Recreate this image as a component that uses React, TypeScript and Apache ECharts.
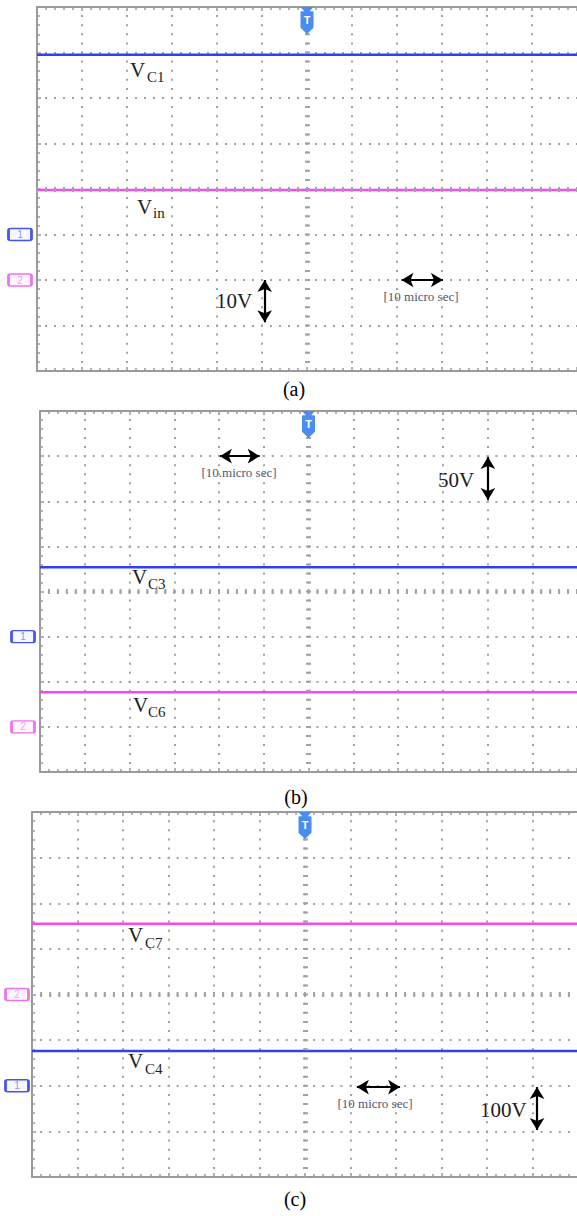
import React, { useEffect, useRef } from "react";
import * as echarts from "echarts";

const PAGE_W = 577;
const PAGE_H = 1216;

// Horizontal scale: 10 µs per division, 12 divisions on screen
const TIME_MIN = -60;
const TIME_MAX = 60;
const TIME_PER_DIV = 10;
// Vertical scale: screen divisions around the centre line
const DIV_MIN = -4;
const DIV_MAX = 4;

const panelLabels = ["(a)", "(b)", "(c)"];
const voltsPerDiv = [10, 50, 100];
// channel ground markers, in divisions
const ch1Ground = [-1, -1, -2];
const ch2Ground = [-2, -3, 0];

const sampleTimes = [-60, -50, -40, -30, -20, -10, 0, 10, 20, 30, 40, 50, 60];
// capacitor / input voltages (V)
const vC1 = [39.5, 39.5, 39.5, 39.5, 39.5, 39.5, 39.5, 39.5, 39.5, 39.5, 39.5, 39.5, 39.5];
const vIn = [19.8, 19.8, 19.8, 19.8, 19.8, 19.8, 19.8, 19.8, 19.8, 19.8, 19.8, 19.8, 19.8];
const vC3 = [77, 77, 77, 77, 77, 77, 77, 77, 77, 77, 77, 77, 77];
const vC6 = [38.5, 38.5, 38.5, 38.5, 38.5, 38.5, 38.5, 38.5, 38.5, 38.5, 38.5, 38.5, 38.5];
const vC4 = [76, 76, 76, 76, 76, 76, 76, 76, 76, 76, 76, 76, 76];
const vC7 = [155, 155, 155, 155, 155, 155, 155, 155, 155, 155, 155, 155, 155];

const ch1Values = [vC1, vC3, vC4];
const ch2Values = [vIn, vC6, vC7];
const ch1Names = [["V", "C1"], ["V", "C3"], ["V", "C4"]];
const ch2Names = [["V", "in"], ["V", "C6"], ["V", "C7"]];

// scale arrows in data units: [t1, div1, t2, div2]
const timeArrows = [
  [21, -2, 30.2, -2],
  [-19.8, 3, -10.9, 3],
  [11.4, -2.03, 20.9, -2.03],
];
const voltArrows = [
  [-9.4, -2, -9.4, -2.93],
  [40.1, 2.98, 40.1, 2.03],
  [51, -2.03, 51, -2.97],
];
const timeScaleText = ["[10 micro sec]", "[10.micro sec]", "[10 micro sec]"];
const voltScaleText = ["10V", "50V", "100V"];

// ---- layout ----
const GRID_RECTS = [
  { left: 37, top: 7, width: 540, height: 364 },
  { left: 40, top: 411, width: 537, height: 361 },
  { left: 32, top: 812, width: 546, height: 365 },
];
const CH1_LABEL_POS = [
  { x: 130, y: 70, sx: 147, sy: 77 },
  { x: 132, y: 577, sx: 148, sy: 584 },
  { x: 128, y: 1061, sx: 145, sy: 1069 },
];
const CH2_LABEL_POS = [
  { x: 137, y: 207, sx: 153, sy: 213 },
  { x: 133, y: 705, sx: 148, sy: 712 },
  { x: 128, y: 935, sx: 145, sy: 943 },
];
const TIME_TEXT_POS = [
  { x: 421, y: 296 },
  { x: 239, y: 472 },
  { x: 375, y: 1103 },
];
const VOLT_TEXT_POS = [
  { x: 216, y: 301 },
  { x: 438, y: 480 },
  { x: 480, y: 1110 },
];
const CAPTION_POS = [
  { x: 294, y: 389 },
  { x: 296, y: 797 },
  { x: 295, y: 1199 },
];
const MARKER_OFFSET = [-17, -17, -15];

const SERIF = "'Liberation Serif', 'DejaVu Serif', serif";
const FRAME = "#9a9a9a";
const DOT = "#a2a2a2";
const BLUE = "#3040f2";
const PINK = "#f04af0";
const TRIG = "#4a8cf0";
const TEXT = "#1c1c24";
const SCALE_TEXT = "#4e5670";

const TRIGGER_PATH =
  "path://M0,0 L12,0 L8.5,4 L11,4 Q12,4 12,5 L12,20 L6,26 L0,20 L0,5 Q0,4 1,4 L3.5,4 Z";
const MARKER_PATH =
  "path://M2,0 L21,0 Q23,0 23,2 L23,10 Q23,12 21,12 L2,12 Q0,12 0,10 L0,2 Q0,0 2,0 Z";

function buildOption() {
  const grid: any[] = [];
  const xAxis: any[] = [];
  const yAxis: any[] = [];
  const series: any[] = [];
  const graphic: any[] = [];

  const tick = {
    show: true,
    inside: true,
    length: 4,
    lineStyle: { color: FRAME, width: 1.5 },
  };
  const minorTick = {
    show: true,
    splitNumber: 5,
    length: 3,
    lineStyle: { color: FRAME, width: 1.5 },
  };
  const axisLine = { show: true, onZero: false, lineStyle: { color: FRAME, width: 2 } };

  GRID_RECTS.forEach((r, i) => {
    const stepV = r.height / ((DIV_MAX - DIV_MIN) * 5);
    const stepH = r.width / (((TIME_MAX - TIME_MIN) / TIME_PER_DIV) * 5);

    grid.push({ ...r, containLabel: false, outerBoundsMode: "none" });

    xAxis.push({
      gridIndex: i,
      type: "value",
      position: "bottom",
      min: TIME_MIN,
      max: TIME_MAX,
      interval: TIME_PER_DIV,
      axisLine,
      axisTick: tick,
      minorTick,
      axisLabel: { show: false },
      splitLine: {
        show: true,
        showMinLine: false,
        showMaxLine: false,
        lineStyle: { color: DOT, width: 2, type: [2, stepV - 2], dashOffset: 1 },
      },
    });
    xAxis.push({
      gridIndex: i,
      type: "value",
      position: "top",
      min: TIME_MIN,
      max: TIME_MAX,
      interval: TIME_PER_DIV,
      axisLine,
      axisTick: tick,
      minorTick,
      axisLabel: { show: false },
      splitLine: { show: false },
    });
    yAxis.push({
      gridIndex: i,
      type: "value",
      position: "left",
      min: DIV_MIN,
      max: DIV_MAX,
      interval: 1,
      axisLine,
      axisTick: tick,
      minorTick,
      axisLabel: { show: false },
      splitLine: {
        show: true,
        showMinLine: false,
        showMaxLine: false,
        lineStyle: { color: DOT, width: 2, type: [2, stepH - 2], dashOffset: 1 },
      },
    });

    // centre cross, trigger flag and channel ground markers
    series.push({
      type: "line",
      xAxisIndex: 2 * i,
      yAxisIndex: i,
      data: [],
      silent: true,
      z: 1,
      markLine: {
        silent: true,
        symbol: "none",
        label: { show: false },
        data: [
          {
            xAxis: 0,
            lineStyle: { color: DOT, width: 5, type: [2, stepV - 2], dashOffset: 1 },
          },
          {
            yAxis: 0,
            lineStyle: { color: DOT, width: 5, type: [2, stepH - 2], dashOffset: 1 },
          },
        ],
      },
      markPoint: {
        silent: true,
        data: [
          {
            coord: [0, DIV_MAX],
            symbol: TRIGGER_PATH,
            symbolSize: [13, 27],
            symbolOffset: [0, "50%"],
            itemStyle: { color: TRIG },
            label: {
              show: true,
              position: "inside",
              formatter: "T",
              color: "#ffffff",
              fontWeight: "bold",
              fontSize: 11,
              fontFamily: "Arial, sans-serif",
              offset: [0, -1],
            },
          },
          {
            coord: [TIME_MIN, ch1Ground[i]],
            symbol: MARKER_PATH,
            symbolSize: [23, 12],
            symbolOffset: [MARKER_OFFSET[i], 0],
            itemStyle: { color: "#f7f7ff", borderColor: "#4654f0", borderWidth: 2 },
            label: {
              show: true,
              position: "inside",
              formatter: "1",
              color: "#8a98f2",
              fontSize: 10,
              fontFamily: "Arial, sans-serif",
            },
          },
          {
            coord: [TIME_MIN, ch2Ground[i]],
            symbol: MARKER_PATH,
            symbolSize: [23, 12],
            symbolOffset: [MARKER_OFFSET[i], 0],
            itemStyle: { color: "#fff7ff", borderColor: "#f070f0", borderWidth: 2 },
            label: {
              show: true,
              position: "inside",
              formatter: "2",
              color: "#f5a0f5",
              fontSize: 10,
              fontFamily: "Arial, sans-serif",
            },
          },
        ],
      },
    });

    // channel traces
    series.push({
      name: ch1Names[i].join(""),
      type: "line",
      xAxisIndex: 2 * i,
      yAxisIndex: i,
      showSymbol: false,
      symbol: "none",
      silent: true,
      z: 3,
      lineStyle: { color: BLUE, width: 2.5 },
      data: sampleTimes.map((t, k) => [t, ch1Values[i][k] / voltsPerDiv[i] + ch1Ground[i]]),
    });
    series.push({
      name: ch2Names[i].join(""),
      type: "line",
      xAxisIndex: 2 * i,
      yAxisIndex: i,
      showSymbol: false,
      symbol: "none",
      silent: true,
      z: 3,
      lineStyle: { color: PINK, width: 2.5 },
      data: sampleTimes.map((t, k) => [t, ch2Values[i][k] / voltsPerDiv[i] + ch2Ground[i]]),
    });

    // scale arrows
    const ta = timeArrows[i];
    const va = voltArrows[i];
    series.push({
      type: "line",
      xAxisIndex: 2 * i,
      yAxisIndex: i,
      data: [],
      silent: true,
      z: 4,
      markLine: {
        silent: true,
        symbol: ["arrow", "arrow"],
        symbolSize: [11, 12],
        label: { show: false },
        lineStyle: { color: "#000000", width: 2.2, type: "solid" },
        data: [
          [{ coord: [ta[0], ta[1]] }, { coord: [ta[2], ta[3]] }],
          [{ coord: [va[0], va[1]] }, { coord: [va[2], va[3]] }],
        ],
      },
    });

    // annotation texts
    const addLabel = (parts: string[], p: any) => {
      graphic.push({
        type: "text",
        x: p.x,
        y: p.y,
        silent: true,
        style: {
          text: parts[0],
          font: `21px ${SERIF}`,
          fill: TEXT,
          textAlign: "left",
          textVerticalAlign: "middle",
          align: "left",
          verticalAlign: "middle",
        },
      });
      graphic.push({
        type: "text",
        x: p.sx,
        y: p.sy,
        silent: true,
        style: {
          text: parts[1],
          font: `15px ${SERIF}`,
          fill: TEXT,
          textAlign: "left",
          textVerticalAlign: "middle",
          align: "left",
          verticalAlign: "middle",
        },
      });
    };
    addLabel(ch1Names[i], CH1_LABEL_POS[i]);
    addLabel(ch2Names[i], CH2_LABEL_POS[i]);

    graphic.push({
      type: "text",
      x: TIME_TEXT_POS[i].x,
      y: TIME_TEXT_POS[i].y,
      silent: true,
      style: {
        text: timeScaleText[i],
        font: `13px ${SERIF}`,
        fill: SCALE_TEXT,
        textAlign: "center",
        textVerticalAlign: "middle",
        align: "center",
        verticalAlign: "middle",
      },
    });
    graphic.push({
      type: "text",
      x: VOLT_TEXT_POS[i].x,
      y: VOLT_TEXT_POS[i].y,
      silent: true,
      style: {
        text: voltScaleText[i],
        font: `21px ${SERIF}`,
        fill: TEXT,
        textAlign: "left",
        textVerticalAlign: "middle",
        align: "left",
        verticalAlign: "middle",
      },
    });
    graphic.push({
      type: "text",
      x: CAPTION_POS[i].x,
      y: CAPTION_POS[i].y,
      silent: true,
      style: {
        text: panelLabels[i],
        font: `20px ${SERIF}`,
        fill: "#000000",
        textAlign: "center",
        textVerticalAlign: "middle",
        align: "center",
        verticalAlign: "middle",
      },
    });
  });

  return {
    animation: false,
    backgroundColor: "#ffffff",
    grid,
    xAxis,
    yAxis,
    series,
    graphic,
  };
}

export default function App() {
  const ref = useRef<HTMLDivElement>(null);
  useEffect(() => {
    if (!ref.current) return;
    const chart = echarts.init(ref.current, null, {
      renderer: "svg",
      width: PAGE_W,
      height: PAGE_H,
    });
    chart.setOption(buildOption());
    return () => {
      chart.dispose();
    };
  }, []);
  return (
    <div
      ref={ref}
      style={{
        position: "absolute",
        left: 0,
        top: 0,
        width: PAGE_W,
        height: PAGE_H,
        background: "#ffffff",
      }}
    />
  );
}
